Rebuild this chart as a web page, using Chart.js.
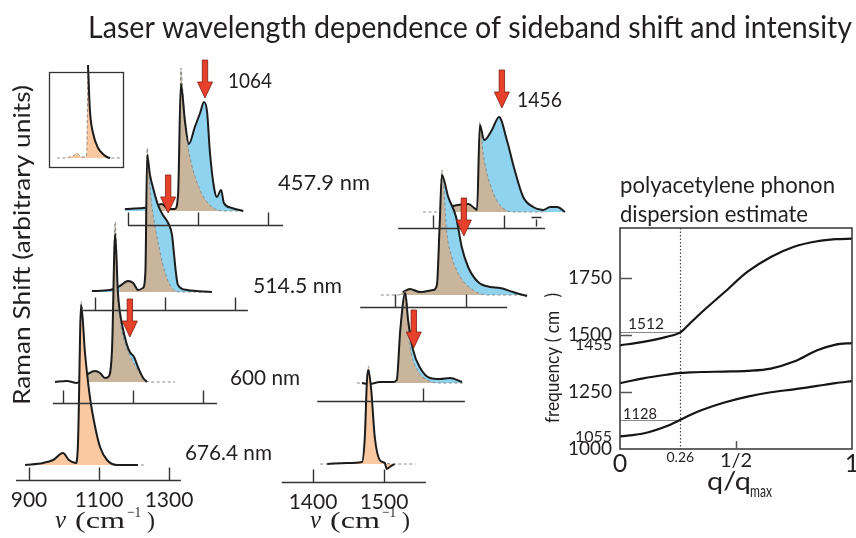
<!DOCTYPE html>
<html>
<head>
<meta charset="utf-8">
<title>Laser wavelength dependence of sideband shift and intensity</title>
<script src="https://cdn.jsdelivr.net/npm/chart.js@4.4.1/dist/chart.umd.min.js"></script>
<style>
  html, body { margin: 0; padding: 0; background: #fff; overflow: hidden; }
  #wrap { position: relative; width: 856px; height: 538px; overflow: hidden; }
  canvas { position: absolute; }
  #spectra { left: 0; top: 0; }
  #dispersion { left: 540px; top: 160px; }
</style>
</head>
<body>
<div id="wrap">
  <canvas id="spectra" width="856" height="538"></canvas>
  <canvas id="dispersion" width="324" height="378"></canvas>
</div>
<script>
// laser lines, top to bottom
const laserLines = ["457.9 nm", "514.5 nm", "600 nm", "676.4 nm"];
const sidebandLabels = ["1064", "1456"];

// axis ticks of the spectra (cm-1)
const lowTicks = [900, 1100, 1300];
const highTicks = [1400, 1500];

// [Raman shift (cm-1), intensity (a.u.)]
// ~1000-1200 band
const low4579 = [[891, 2], [943, 3], [971, 4], [997, 7], [1014, 2], [1034, 2], [1043, 16], [1051, 127], [1063, 89], [1074, 67], [1091, 84], [1106, 98], [1117, 109], [1126, 99], [1134, 59], [1146, 23], [1154, 14], [1166, 21], [1174, 8], [1197, 3], [1229, 0]];
const low4579Fit = [[971, 4], [997, 7], [1014, 2], [1034, 2], [1043, 16], [1048, 90], [1051, 143], [1055, 128], [1060, 102], [1066, 80], [1074, 59], [1085, 42], [1097, 29], [1111, 17], [1126, 9], [1140, 4], [1155, 1], [1175, 0], [1235, 0]];
const low5145 = [[891, 1], [943, 2], [971, 6], [994, 11], [1009, 9], [1023, 2], [1037, 4], [1044, 20], [1049, 137], [1057, 117], [1066, 104], [1080, 87], [1094, 77], [1109, 69], [1120, 57], [1126, 37], [1131, 20], [1137, 7], [1163, 2], [1234, 0]];
const low5145Fit = [[971, 6], [994, 11], [1009, 9], [1023, 2], [1037, 4], [1044, 20], [1049, 144], [1057, 104], [1066, 77], [1080, 50], [1094, 27], [1114, 7], [1143, 0], [1234, 0]];
const low600 = [[877, 0], [911, 1], [940, -1], [954, 4], [971, 8], [991, 11], [1006, 9], [1020, 4], [1029, 5], [1040, 32], [1049, 148], [1057, 89], [1069, 57], [1083, 37], [1091, 30], [1103, 25], [1114, 15], [1129, 4], [1140, 0]];
const low600Fit = [[954, 4], [971, 8], [991, 11], [1006, 9], [1020, 4], [1029, 5], [1040, 32], [1049, 160], [1057, 84], [1063, 62], [1077, 39], [1097, 22], [1114, 12], [1134, 2], [1150, 0], [1220, 0]];
const low6764 = [[889, 0], [940, 2], [969, 5], [997, 12], [1014, 5], [1034, 2], [1040, 22], [1049, 160], [1060, 112], [1074, 68], [1089, 38], [1103, 18], [1123, 5], [1151, 0], [1211, 0]];
const low6764Fit = [[889, 0], [940, 2], [969, 5], [997, 12], [1014, 5], [1034, 2], [1040, 22], [1049, 164], [1060, 112], [1074, 68], [1089, 38], [1103, 18], [1123, 5], [1151, 0], [1230, 0]];

// ~1450-1550 band
const high4579 = [[1414, 0], [1424, 5], [1435, 7], [1450, 8], [1458, 4], [1462, 2], [1466, 87], [1472, 72], [1483, 82], [1493, 95], [1504, 72], [1515, 42], [1527, 15], [1541, 5], [1555, 2], [1565, 5], [1575, 5], [1586, 0]];
const high4579Fit = [[1386, 0], [1414, 0], [1424, 5], [1435, 7], [1450, 8], [1458, 4], [1462, 2], [1466, 90], [1470, 62], [1476, 39], [1485, 19], [1494, 7], [1513, 0], [1560, 0]];
const high5145 = [[1411, 3], [1421, 6], [1435, 3], [1454, 5], [1459, 10], [1463, 72], [1466, 120], [1475, 98], [1486, 78], [1494, 48], [1503, 28], [1517, 13], [1534, 8], [1548, 7], [1566, 3], [1586, -1]];
const high5145Fit = [[1380, 0], [1405, 0], [1411, 3], [1421, 6], [1435, 3], [1454, 5], [1459, 10], [1463, 72], [1466, 125], [1473, 62], [1480, 38], [1492, 18], [1510, 5], [1529, 0], [1586, 0]];
const high600 = [[1414, 0], [1425, -1], [1439, 1], [1458, 1], [1463, 3], [1468, 53], [1475, 90], [1479, 63], [1486, 33], [1496, 15], [1510, 5], [1524, 4], [1538, 5], [1555, 1]];
const high600Fit = [[1407, 0], [1414, 0], [1425, -1], [1439, 1], [1458, 1], [1463, 3], [1468, 53], [1475, 92], [1482, 36], [1492, 13], [1506, 3], [1520, 0], [1557, 0]];
const high6764 = [[1420, 0], [1448, 1], [1469, 2], [1473, 27], [1476, 84], [1478, 94], [1482, 74], [1487, 27], [1494, 4], [1501, 1], [1504, -5], [1508, -3], [1515, 0]];
const high6764Fit = [[1410, 0], [1420, 0], [1448, 1], [1469, 2], [1473, 27], [1476, 84], [1478, 98], [1482, 74], [1487, 27], [1494, 4], [1501, 1], [1515, 0], [1544, 0]];

// inset
const insetScan = [[1049, 93], [1058, 48], [1073, 25], [1097, 10], [1120, 4], [1139, 1], [1154, 0]];
const insetFit = [[901, 0], [930, 0], [963, 1], [985, 3], [997, 5], [1010, 2], [1020, 1], [1039, 1], [1044, 10], [1049, 93], [1058, 48], [1073, 25], [1097, 10], [1120, 4], [1139, 1], [1154, 0], [1201, 0]];

// red arrows: spectrum, shift, level of the tip
const arrowSpectrum = [0, 2, 4, 1, 3, 5];
const arrowShift = [1120, 1109, 1091, 1497, 1497, 1487];
const arrowLevel = [113, 79, 45, 104, 59, 35];

// phonon dispersion estimate
const qGrid = [0, 0.1, 0.2, 0.26, 0.3, 0.35, 0.45, 0.55, 0.65, 0.75, 0.85, 0.93, 1];
const upperBranch = [1455, 1470, 1492, 1512, 1550, 1598, 1688, 1778, 1843, 1888, 1912, 1921, 1923];
const middleBranch = [1289, 1310, 1326, 1334, 1336, 1338, 1340, 1343, 1353, 1384, 1433, 1458, 1465];
const lowerBranch = [1055, 1068, 1100, 1128, 1148, 1170, 1204, 1230, 1249, 1262, 1277, 1289, 1298];
const freqTicks = [1000, 1055, 1250, 1455, 1500, 1750];
const smallFreqTicks = [1055, 1455];
const freqTickMarks = [1250, 1500, 1750];
const qTicks = [0, 0.26, 0.5, 1];
const qTickLabels = ["0", "0.26", "1/2", "1"];
const qMark = 0.26;
const markedFreqs = [1512, 1128];

const INK = "#231f20";
const BLUE = "#8fd3ee", TAN = "#c8b59b", PEACH = "#fbc9a1";
const FONT = "Lato, 'Open Sans', sans-serif";
const SERIF = "'Liberation Serif', 'DejaVu Serif', serif";

// where each spectrum sits on the page (k = px per cm-1)
const layout = [
  { k: 0.35, refCm: 900, refX: 128, baseY: 211, axisY: 225, axis: [900, 1343], ticks: lowTicks, meas: low4579, fit: low4579Fit, fill: BLUE, fitFill: TAN },
  { k: 0.71, refCm: 1400, refX: 433, baseY: 212, axisY: 228, axis: [1351, 1558], ticks: highTicks, minor: [1545], meas: high4579, fit: high4579Fit, fill: BLUE, fitFill: TAN },
  { k: 0.35, refCm: 900, refX: 95, baseY: 292, axisY: 310, axis: [866, 1337], ticks: lowTicks, meas: low5145, fit: low5145Fit, fill: BLUE, fitFill: TAN },
  { k: 0.71, refCm: 1400, refX: 395, baseY: 295, axisY: 307, axis: [1351, 1558], ticks: highTicks, meas: high5145, fit: high5145Fit, fill: BLUE, fitFill: TAN },
  { k: 0.35, refCm: 900, refX: 63, baseY: 382, axisY: 403, axis: [871, 1340], ticks: lowTicks, meas: low600, fit: low600Fit, fill: BLUE, fitFill: TAN },
  { k: 0.71, refCm: 1500, refX: 423, baseY: 383, axisY: 401, axis: [1351, 1559], ticks: highTicks.slice(1), meas: high600, fit: high600Fit, fill: BLUE, fitFill: TAN },
  { k: 0.35, refCm: 900, refX: 29, baseY: 465, axisY: 480, axis: [863, 1334], ticks: lowTicks, labels: true, meas: low6764, fit: low6764Fit, fill: PEACH, fitFill: PEACH },
  { k: 0.71, refCm: 1400, refX: 313, baseY: 464, axisY: 482, axis: [1356, 1559], ticks: highTicks, labels: true, meas: high6764, fit: high6764Fit, fill: PEACH, fitFill: PEACH },
  { k: 0.21, refCm: 1049, refX: 88, baseY: 158, inset: true, meas: insetScan, fit: insetFit, fill: null, fitFill: PEACH },
];
const laserLabelPos = [[278, 190, 92], [253, 293, 89], [230, 385, 70], [185, 460, 87]];

function fitText(ctx, str, x, y, font, width, align) {
  ctx.save();
  ctx.font = font;
  ctx.textAlign = align || "left";
  ctx.textBaseline = "alphabetic";
  const w = ctx.measureText(str).width;
  ctx.translate(x, y);
  if (width) ctx.scale(width / w, 1);
  ctx.fillText(str, 0, 0);
  ctx.restore();
}

function drawArrow(ctx, x, tipY, len) {
  const sw = 2.7, hw = 7.5, hl = 16;
  ctx.beginPath();
  ctx.moveTo(x - sw, tipY - len);
  ctx.lineTo(x + sw, tipY - len);
  ctx.lineTo(x + sw, tipY - hl);
  ctx.lineTo(x + hw, tipY - hl);
  ctx.lineTo(x, tipY);
  ctx.lineTo(x - hw, tipY - hl);
  ctx.lineTo(x - sw, tipY - hl);
  ctx.closePath();
  ctx.fillStyle = "#e8412b";
  ctx.fill();
  ctx.strokeStyle = "#7d1e12";
  ctx.lineWidth = 0.8;
  ctx.stroke();
}

function drawNu(ctx, x0, base) {
  ctx.fillStyle = INK;
  fitText(ctx, "ν", x0, base, "italic 25px " + SERIF, 11);
  fitText(ctx, "(cm", x0 + 20, base, "24px " + SERIF, 50);
  fitText(ctx, "−1", x0 + 72, base - 11, "15px " + SERIF, 14);
  fitText(ctx, ")", x0 + 92, base, "24px " + SERIF);
}

const toXY = (pts) => pts.map(([x, y]) => ({ x, y }));

// ---------------- spectra ----------------
const W = 856, H = 538;
const scales = {};
const spectraSets = [];
layout.forEach((s, i) => {
  const xmin = s.refCm - s.refX / s.k;
  scales["x" + i] = { type: "linear", display: false, min: xmin, max: xmin + W / s.k };
  scales["y" + i] = { type: "linear", display: false, min: s.baseY - H, max: s.baseY };
  const common = { xAxisID: "x" + i, yAxisID: "y" + i, pointRadius: 0, cubicInterpolationMode: "monotone" };
  if (s.fill) {
    spectraSets.push({ ...common, data: toXY(s.meas), fill: "origin", backgroundColor: s.fill, borderColor: "rgba(0,0,0,0)", borderWidth: 1 });
  }
  spectraSets.push({ ...common, data: toXY(s.fit), fill: "origin", backgroundColor: s.fitFill, borderColor: "#8c8c8c", borderWidth: 1, borderDash: [3, 2.5] });
  spectraSets.push({ ...common, data: toXY(s.meas), fill: false, borderColor: "#1c1c1c", borderWidth: 2 });
});
// first in the list is painted first
spectraSets.forEach((d, i) => { d.order = spectraSets.length - i; });

const spectraDecor = {
  id: "spectraDecor",
  afterDatasetsDraw(chart) {
    const ctx = chart.ctx;
    ctx.save();
    ctx.strokeStyle = "#333";
    ctx.fillStyle = INK;
    layout.forEach((s, i) => {
      if (s.inset) return;
      const xs = chart.scales["x" + i];
      const a = s.axisY + 0.5;
      ctx.lineWidth = 1.4;
      ctx.beginPath();
      ctx.moveTo(xs.getPixelForValue(s.axis[0]), a);
      ctx.lineTo(xs.getPixelForValue(s.axis[1]), a);
      s.ticks.forEach((t) => {
        const px = Math.round(xs.getPixelForValue(t)) + 0.5;
        ctx.moveTo(px, a);
        ctx.lineTo(px, a - 13);
      });
      (s.minor || []).forEach((t) => {
        const px = Math.round(xs.getPixelForValue(t)) + 0.5;
        ctx.moveTo(px, a - 2);
        ctx.lineTo(px, a - 9);
        ctx.moveTo(px - 5, a - 11);
        ctx.lineTo(px + 5, a - 11);
      });
      ctx.stroke();
      if (s.labels) {
        s.ticks.forEach((t) => {
          fitText(ctx, String(t), xs.getPixelForValue(t), s.axisY + 27, "21px " + FONT, null, "center");
        });
      }
    });

    // inset frame
    ctx.lineWidth = 1.3;
    ctx.strokeRect(49.5, 72.5, 74, 95);

    // sideband arrows
    arrowSpectrum.forEach((si, j) => {
      const xs = chart.scales["x" + si], ys = chart.scales["y" + si];
      drawArrow(ctx, xs.getPixelForValue(arrowShift[j]), ys.getPixelForValue(arrowLevel[j]), 38);
    });

    // texts
    ctx.fillStyle = INK;
    fitText(ctx, "Laser wavelength dependence of sideband shift and intensity", 88, 38, "31px " + FONT, 764);
    laserLines.forEach((t, j) => {
      const [x, y, w] = laserLabelPos[j];
      fitText(ctx, t, x, y, "21px " + FONT, w);
    });
    fitText(ctx, sidebandLabels[0], 228, 88, "21px " + FONT, 44);
    fitText(ctx, sidebandLabels[1], 517, 107, "21px " + FONT, 45);

    ctx.save();
    ctx.translate(30, 245);
    ctx.rotate(-Math.PI / 2);
    fitText(ctx, "Raman Shift (arbitrary units)", 0, 0, "24px " + FONT, 320, "center");
    ctx.restore();

    drawNu(ctx, 55, 528);
    drawNu(ctx, 310, 528);
    ctx.restore();
  },
};

new Chart(document.getElementById("spectra"), {
  type: "line",
  data: { datasets: spectraSets },
  options: {
    responsive: false,
    animation: false,
    events: [],
    layout: { padding: 0 },
    plugins: { legend: { display: false }, tooltip: { enabled: false } },
    scales,
  },
  plugins: [spectraDecor],
});

// ---------------- dispersion ----------------
const branch = (vals) => ({
  data: qGrid.map((q, j) => ({ x: q, y: vals[j] })),
  borderColor: "#151515",
  borderWidth: 2.2,
  pointRadius: 0,
  fill: false,
  cubicInterpolationMode: "monotone",
});

const dispersionDecor = {
  id: "dispersionDecor",
  beforeDatasetsDraw(chart) {
    const { ctx, chartArea: a, scales: { x, y } } = chart;
    ctx.save();
    const qx = Math.round(x.getPixelForValue(qMark)) + 0.5;
    ctx.strokeStyle = "#444";
    ctx.lineWidth = 1.2;
    ctx.setLineDash([1.5, 2]);
    ctx.beginPath();
    ctx.moveTo(qx, a.top);
    ctx.lineTo(qx, a.bottom);
    ctx.stroke();
    ctx.setLineDash([]);
    ctx.strokeStyle = "#8a8a8a";
    ctx.lineWidth = 1;
    markedFreqs.forEach((f) => {
      const py = Math.round(y.getPixelForValue(f)) + 0.5;
      ctx.beginPath();
      ctx.moveTo(a.left, py);
      ctx.lineTo(qx, py);
      ctx.stroke();
    });
    ctx.restore();
  },
  afterDatasetsDraw(chart) {
    const { ctx, chartArea: a, scales: { x, y } } = chart;
    ctx.save();
    ctx.strokeStyle = "#333";
    ctx.lineWidth = 1.5;
    ctx.strokeRect(a.left, a.top, a.right - a.left, a.bottom - a.top);
    ctx.strokeStyle = "#555";
    ctx.beginPath();
    freqTickMarks.forEach((f) => {
      const py = Math.round(y.getPixelForValue(f)) + 0.5;
      ctx.moveTo(a.left, py);
      ctx.lineTo(a.left + 12, py);
    });
    const hx = Math.round(x.getPixelForValue(0.5)) + 0.5;
    ctx.moveTo(hx, a.bottom);
    ctx.lineTo(hx, a.bottom - 8);
    ctx.stroke();

    ctx.fillStyle = INK;
    fitText(ctx, String(markedFreqs[0]), a.left + 8, y.getPixelForValue(markedFreqs[0]) - 3, "15px " + FONT, 36);
    fitText(ctx, String(markedFreqs[1]), a.left + 3, y.getPixelForValue(markedFreqs[1]) - 1, "15px " + FONT, 34);

    fitText(ctx, "polyacetylene phonon", 80, 33, "24px " + FONT, 215);
    fitText(ctx, "dispersion estimate", 80, 62, "24px " + FONT, 188);

    ctx.save();
    ctx.translate(19, 198);
    ctx.rotate(-Math.PI / 2);
    fitText(ctx, "frequency ( cm   )", 0, 0, "20px " + FONT, 130, "center");
    ctx.restore();

    fitText(ctx, "q/q", 167, 330, "25px " + FONT, 44);
    fitText(ctx, "max", 210, 337, "17px " + FONT, 22);
    ctx.restore();
  },
};

new Chart(document.getElementById("dispersion"), {
  type: "line",
  data: { datasets: [branch(upperBranch), branch(middleBranch), branch(lowerBranch)] },
  options: {
    responsive: false,
    animation: false,
    events: [],
    layout: { padding: { left: 0, top: 68, right: 12, bottom: 0 } },
    plugins: { legend: { display: false }, tooltip: { enabled: false } },
    scales: {
      x: {
        type: "linear",
        min: 0,
        max: 1,
        grid: { display: false, drawTicks: false },
        border: { display: false },
        afterBuildTicks: (s) => { s.ticks = qTicks.map((v) => ({ value: v })); },
        afterFit: (s) => { s.height = 89; },
        ticks: {
          autoSkip: false,
          maxRotation: 0,
          padding: 0,
          color: INK,
          callback: (v, i) => qTickLabels[i],
          font: (c) => ({ family: FONT, size: [25, 14, 20, 25][c.index] || 20 }),
        },
      },
      y: {
        type: "linear",
        min: 1000,
        max: 1970,
        grid: { display: false, drawTicks: false },
        border: { display: false },
        afterBuildTicks: (s) => { s.ticks = freqTicks.map((v) => ({ value: v })); },
        afterFit: (s) => { s.width = 80; },
        ticks: {
          autoSkip: false,
          padding: 8,
          color: INK,
          callback: (v) => String(v),
          font: (c) => ({ family: FONT, size: c.tick && smallFreqTicks.includes(c.tick.value) ? 16 : 19 }),
        },
      },
    },
  },
  plugins: [dispersionDecor],
});
</script>
</body>
</html>
